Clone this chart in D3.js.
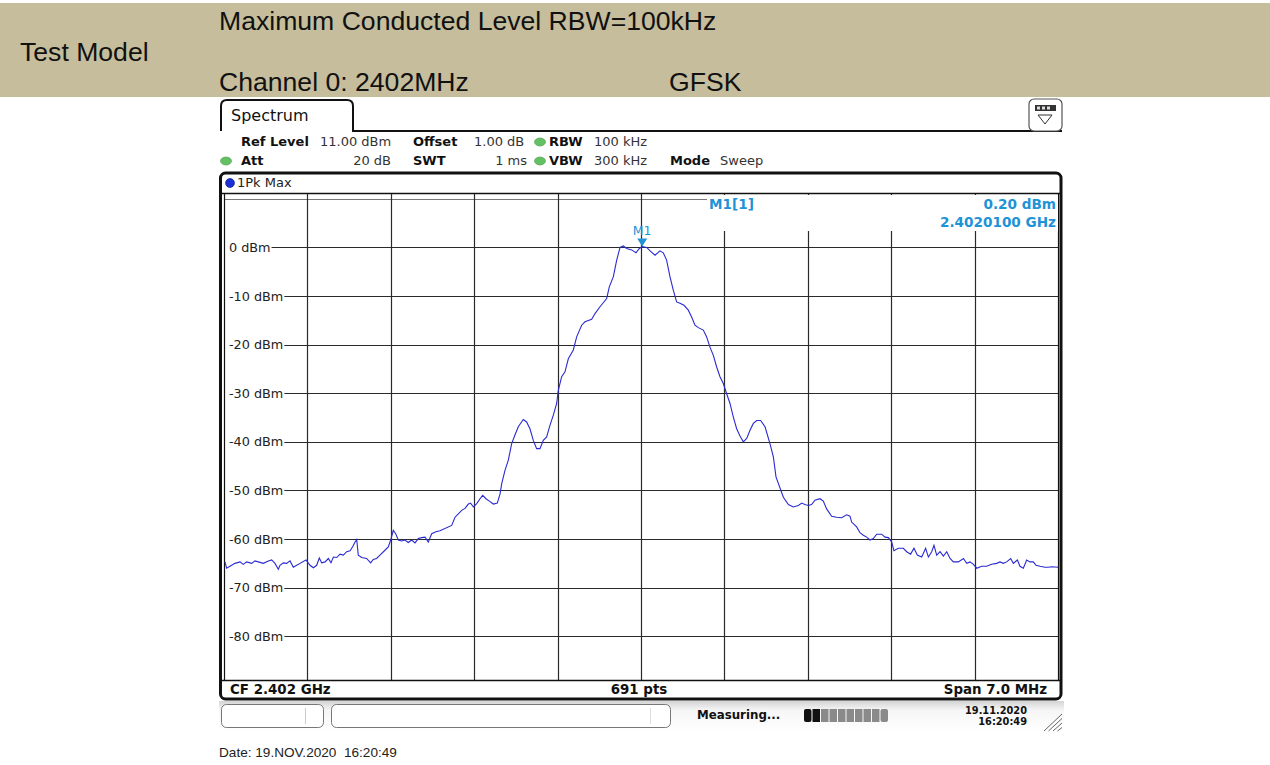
<!DOCTYPE html>
<html>
<head>
<meta charset="utf-8">
<script src="https://cdn.jsdelivr.net/npm/d3@7"></script>
<style>
  body { margin: 0; background: #fff; }
  svg { display: block; }
  text { white-space: pre; }
</style>
</head>
<body>
<div id="chart"></div>
<script>
// trace: offset from CF in MHz, level in dBm
const traceFreqMHz = [
  -3.492, -3.478, -3.450, -3.408, -3.366, -3.338, -3.310, -3.268, -3.240, -3.198,
  -3.170, -3.128, -3.100, -3.072, -3.044, -3.030, -3.002, -2.974, -2.946, -2.918,
  -2.890, -2.862, -2.812, -2.778, -2.750, -2.722, -2.700, -2.680, -2.652, -2.624,
  -2.602, -2.582, -2.554, -2.526, -2.498, -2.470, -2.442, -2.420, -2.400, -2.386,
  -2.373, -2.344, -2.303, -2.269, -2.247, -2.219, -2.191, -2.149, -2.121, -2.101,
  -2.079, -2.059, -2.037, -2.009, -1.981, -1.953, -1.925, -1.897, -1.869, -1.841,
  -1.813, -1.785, -1.757, -1.721, -1.687,
  -1.589, -1.561, -1.533, -1.505, -1.477, -1.449, -1.430, -1.407, -1.379, -1.351,
  -1.329, -1.301, -1.273, -1.239, -1.206, -1.183, -1.169, -1.141, -1.114, -1.086,
  -1.058, -1.030, -0.988, -0.960, -0.932, -0.904, -0.876, -0.848, -0.820, -0.792,
  -0.764, -0.736, -0.708, -0.694, -0.666, -0.638, -0.610, -0.568, -0.540, -0.498,
  -0.470, -0.414, -0.386, -0.344, -0.288, -0.266, -0.232, -0.204, -0.176, -0.148,
  -0.120, -0.078, -0.042, -0.014, 0.010,
  0.048, 0.076, 0.118, 0.159, 0.187, 0.215, 0.243, 0.271, 0.299, 0.327,
  0.361, 0.397, 0.425, 0.453, 0.481, 0.523, 0.551, 0.579, 0.607, 0.635,
  0.663, 0.691, 0.719, 0.747, 0.775, 0.803, 0.831, 0.859, 0.887, 0.915,
  0.943, 0.971, 1.004, 1.041, 1.083, 1.111, 1.133,
  1.195, 1.237, 1.279, 1.321, 1.349, 1.376, 1.404, 1.432, 1.460, 1.502,
  1.530, 1.558, 1.600, 1.642, 1.684, 1.726, 1.754, 1.768, 1.810, 1.838,
  1.866, 1.894, 1.922, 1.950, 1.978, 2.020, 2.048, 2.076, 2.104, 2.123,
  2.160, 2.202, 2.230, 2.263, 2.291, 2.319, 2.356, 2.389, 2.412, 2.440,
  2.459, 2.482, 2.510, 2.538, 2.566, 2.594, 2.622, 2.664, 2.706, 2.734,
  2.762, 2.790, 2.818, 2.859, 2.901, 2.943, 2.985, 3.013, 3.041, 3.069,
  3.103, 3.125, 3.159, 3.181, 3.209, 3.237, 3.265, 3.293, 3.315, 3.349,
  3.391, 3.419, 3.447, 3.500
];
const traceLevelDbm = [
  -64.7, -66.0, -65.6, -65.0, -64.7, -65.2, -64.7, -65.0, -64.5, -64.8,
  -65.0, -64.5, -64.3, -65.0, -66.2, -65.4, -64.9, -65.0, -64.5, -65.8,
  -65.4, -65.0, -64.3, -65.4, -65.9, -65.4, -63.9, -64.9, -64.7, -64.0,
  -64.9, -63.7, -63.8, -63.1, -63.3, -62.6, -62.4, -61.6, -60.6, -60.1,
  -63.3, -63.8, -64.0, -64.9, -64.2, -64.0, -63.3, -62.3, -61.6, -60.2,
  -58.2, -58.9, -60.2, -60.4, -60.2, -60.7, -60.2, -60.8, -59.9, -59.7,
  -59.6, -60.6, -58.9, -58.5, -58.3,
  -57.2, -55.5, -54.8, -54.1, -53.7, -52.8, -52.6, -53.4, -52.7, -51.7,
  -51.0, -51.7, -52.2, -52.8, -52.6, -50.7, -48.6, -45.8, -43.8, -40.4,
  -38.6, -36.9, -35.4, -35.9, -37.3, -39.7, -41.4, -41.4, -39.7, -39.0,
  -36.6, -34.5, -32.1, -29.4, -26.6, -25.6, -22.9, -21.1, -18.4, -16.0,
  -15.3, -14.8, -13.6, -12.2, -10.5, -8.1, -6.0, -2.6, 0.0, 0.3,
  -0.2, -0.5, -1.1, -0.2, 0.2,
  0.0, -0.7, -1.6, -0.7, -1.1, -2.6, -6.0, -8.8, -11.2, -11.5,
  -11.9, -12.9, -14.3, -16.0, -16.5, -17.0, -18.4, -20.5, -22.2, -24.6,
  -26.6, -28.0, -30.1, -32.1, -34.9, -37.3, -38.8, -40.0, -39.3, -37.6,
  -36.2, -35.6, -35.6, -36.9, -40.4, -43.1, -47.2,
  -51.4, -52.9, -53.4, -53.1, -52.6, -52.9, -53.1, -52.9, -52.0, -51.7,
  -52.2, -53.8, -55.3, -55.5, -55.6, -55.0, -55.3, -56.5, -57.5, -58.7,
  -59.2, -59.6, -60.2, -59.9, -59.0, -59.0, -59.6, -59.7, -60.6, -62.4,
  -61.9, -61.9, -62.6, -63.1, -61.9, -63.3, -63.7, -61.9, -63.7, -62.6,
  -61.3, -63.3, -62.6, -63.5, -62.6, -64.0, -64.7, -64.7, -64.0, -65.0,
  -64.7, -65.2, -66.0, -65.6, -65.6, -65.2, -65.0, -64.7, -65.0, -64.7,
  -64.0, -65.0, -64.3, -65.6, -66.0, -64.3, -64.7, -64.7, -65.4, -65.6,
  -65.8, -65.8, -65.7, -65.8
];

const levelTicks = [0, -10, -20, -30, -40, -50, -60, -70, -80];
const freqDivisions = [-2.8, -2.1, -1.4, -0.7, 0, 0.7, 1.4, 2.1, 2.8];
const refLevel = 11;
const spanMHz = 7;

const markerFreqMHz = 0.01;
const markerLevelDbm = 0.2;

const headerLines = ["Maximum Conducted Level RBW=100kHz", "Channel 0: 2402MHz"];
const modulation = "GFSK";

const W = 1270, H = 765;
const plotL = 224, plotR = 1058, plotT = 194, plotB = 680;

const svg = d3.select("#chart").append("svg")
  .attr("width", W).attr("height", H)
  .attr("viewBox", `0 0 ${W} ${H}`);

// ----- header band -----
svg.append("rect").attr("x", 0).attr("y", 3).attr("width", W).attr("height", 94)
  .attr("fill", "#c5bd9b");

const arial = "'Liberation Sans', Arial, sans-serif";
const hdrSize = 26.6;
svg.append("text").attr("x", 20).attr("y", 61).text("Test Model")
  .attr("font-family", arial).attr("font-size", hdrSize).attr("fill", "#111");
svg.append("text").attr("x", 219).attr("y", 30).text(headerLines[0])
  .attr("font-family", arial).attr("font-size", hdrSize).attr("fill", "#111");
svg.append("text").attr("x", 219).attr("y", 91).text(headerLines[1])
  .attr("font-family", arial).attr("font-size", hdrSize).attr("fill", "#111");
svg.append("text").attr("x", 669).attr("y", 91).text(modulation)
  .attr("font-family", arial).attr("font-size", hdrSize).attr("fill", "#111");

// ----- instrument screen -----
const rsFont = "'DejaVu Sans', Verdana, sans-serif";

// tab
svg.append("path")
  .attr("d", "M221,131 L221,106 Q221,100 227,100 L347,100 Q353,100 353,106 L353,131 L1062,131")
  .attr("fill", "none").attr("stroke", "#111").attr("stroke-width", 2);
svg.append("text").attr("x", 231).attr("y", 121).text("Spectrum")
  .attr("font-family", rsFont).attr("font-size", 16).attr("fill", "#111");

// menu icon at top right
const icon = svg.append("g");
icon.append("rect").attr("x", 1029).attr("y", 99).attr("width", 33).attr("height", 32)
  .attr("rx", 5).attr("fill", "#fff").attr("stroke", "#555").attr("stroke-width", 1.2);
icon.append("rect").attr("x", 1035).attr("y", 105).attr("width", 21).attr("height", 6)
  .attr("fill", "#333");
[1037, 1042, 1047].forEach(x => icon.append("rect").attr("x", x).attr("y", 106.5)
  .attr("width", 3).attr("height", 3).attr("fill", "#ddd"));
icon.append("path").attr("d", "M1038,115 L1052,115 L1045,124 Z")
  .attr("fill", "none").attr("stroke", "#333").attr("stroke-width", 1);

// settings rows
const settings = [
  { x: 241, y: 146, t: "Ref Level", b: true },
  { x: 320, y: 146, t: "11.00 dBm" },
  { x: 413, y: 146, t: "Offset", b: true },
  { x: 474, y: 146, t: "1.00 dB" },
  { x: 549, y: 146, t: "RBW", b: true },
  { x: 594, y: 146, t: "100 kHz" },
  { x: 241, y: 165, t: "Att", b: true },
  { x: 391, y: 165, t: "20 dB", a: "end" },
  { x: 413, y: 165, t: "SWT", b: true },
  { x: 527, y: 165, t: "1 ms", a: "end" },
  { x: 549, y: 165, t: "VBW", b: true },
  { x: 594, y: 165, t: "300 kHz" },
  { x: 670, y: 165, t: "Mode", b: true },
  { x: 720, y: 165, t: "Sweep" }
];
svg.selectAll(".setting").data(settings).enter().append("text")
  .attr("class", "setting")
  .attr("x", d => d.x).attr("y", d => d.y)
  .attr("text-anchor", d => d.a || "start")
  .attr("font-family", rsFont).attr("font-size", 13)
  .attr("font-weight", d => d.b ? "bold" : "normal")
  .attr("fill", d => d.b ? "#111" : "#333")
  .text(d => d.t);

[[540, 142], [226, 161], [540, 161]].forEach(([cx, cy]) => {
  svg.append("ellipse").attr("cx", cx).attr("cy", cy).attr("rx", 5.5).attr("ry", 4)
    .attr("fill", "#63c163").attr("stroke", "#4a9a4a").attr("stroke-width", 0.6);
});

// panel frame
svg.append("rect").attr("x", 220.5).attr("y", 173).attr("width", 840.5).attr("height", 526)
  .attr("rx", 5).attr("fill", "#fff").attr("stroke", "#111").attr("stroke-width", 3);
svg.append("line").attr("x1", 222).attr("x2", 1060).attr("y1", 193.5).attr("y2", 193.5)
  .attr("stroke", "#111").attr("stroke-width", 1.5);
svg.append("circle").attr("cx", 230).attr("cy", 183).attr("r", 4.5)
  .attr("fill", "#1c2fd6").attr("stroke", "#0a1a80").attr("stroke-width", 0.6);
svg.append("text").attr("x", 237).attr("y", 187).text("1Pk Max")
  .attr("font-family", rsFont).attr("font-size", 13).attr("fill", "#222");

// scales
const x = d3.scaleLinear().domain([-spanMHz / 2, spanMHz / 2]).range([plotL, plotR]);
const y = d3.scaleLinear().domain([refLevel - 100, refLevel]).range([plotB, plotT]);

const grid = svg.append("g");
const gridColor = "#2a2a2a";

// horizontal grid lines with level labels
levelTicks.forEach(v => {
  const lbl = grid.append("text").attr("x", 229).attr("y", y(v) + 4.5)
    .attr("font-family", rsFont).attr("font-size", 12.8).attr("fill", "#222")
    .text(`${v} dBm`);
  const w = lbl.node().getComputedTextLength();
  grid.append("line").attr("x1", 229 + w + 1).attr("x2", plotR)
    .attr("y1", Math.round(y(v)) + 0.5).attr("y2", Math.round(y(v)) + 0.5)
    .attr("stroke", gridColor).attr("stroke-width", 1.2);
});
// top grid line at +10 dBm (no label)
grid.append("line").attr("x1", plotL).attr("x2", plotR)
  .attr("y1", Math.round(y(10)) + 0.5).attr("y2", Math.round(y(10)) + 0.5)
  .attr("stroke", "#777").attr("stroke-width", 1.2);

// vertical grid lines
freqDivisions.forEach(f => {
  grid.append("line").attr("x1", Math.round(x(f)) + 0.5).attr("x2", Math.round(x(f)) + 0.5)
    .attr("y1", plotT).attr("y2", plotB)
    .attr("stroke", gridColor).attr("stroke-width", 1.2);
});
// plot left edge and bottom
svg.append("line").attr("x1", plotL + 0.5).attr("x2", plotL + 0.5).attr("y1", plotT).attr("y2", plotB)
  .attr("stroke", "#111").attr("stroke-width", 1.2);
svg.append("line").attr("x1", plotR + 0.5).attr("x2", plotR + 0.5).attr("y1", plotT).attr("y2", plotB)
  .attr("stroke", "#111").attr("stroke-width", 1.2);
svg.append("line").attr("x1", 222).attr("x2", 1060).attr("y1", plotB + 0.5).attr("y2", plotB + 0.5)
  .attr("stroke", "#111").attr("stroke-width", 1.5);

// marker readout box covers the upper right grid
svg.append("rect").attr("x", 707).attr("y", 195).attr("width", plotR - 707).attr("height", 36)
  .attr("fill", "#fff");
const mColor = "#1e93d6";
const mSize = 13.6;
svg.append("text").attr("x", 709).attr("y", 209).text("M1[1]")
  .attr("font-family", rsFont).attr("font-size", mSize).attr("font-weight", "bold").attr("fill", mColor);
svg.append("text").attr("x", 1056).attr("y", 209).attr("text-anchor", "end")
  .text(`${markerLevelDbm.toFixed(2)} dBm`)
  .attr("font-family", rsFont).attr("font-size", mSize).attr("font-weight", "bold").attr("fill", mColor);
svg.append("text").attr("x", 1056).attr("y", 227).attr("text-anchor", "end")
  .text(`${(2402 + markerFreqMHz) / 1000}`.padEnd(9, "0") + " GHz")
  .attr("font-family", rsFont).attr("font-size", mSize).attr("font-weight", "bold").attr("fill", mColor);

// trace
const trace = traceFreqMHz.map((f, i) => [f, traceLevelDbm[i]]);
svg.append("path")
  .datum(trace)
  .attr("fill", "none")
  .attr("stroke", "#2a2ad2")
  .attr("stroke-width", 1.1)
  .attr("d", d3.line().x(d => x(d[0])).y(d => y(d[1])));

// marker
const mx = x(markerFreqMHz), my = y(markerLevelDbm);
svg.append("path")
  .attr("d", `M${mx - 5},${my - 8} L${mx + 5},${my - 8} L${mx},${my} Z`)
  .attr("fill", mColor);
svg.append("text").attr("x", mx).attr("y", my - 11).attr("text-anchor", "middle")
  .text("M1").attr("font-family", rsFont).attr("font-size", 12.5).attr("fill", mColor);

// bottom info bar
const bottomY = 694;
const bSize = 13.4;
svg.append("text").attr("x", 230).attr("y", bottomY).text("CF 2.402 GHz")
  .attr("font-family", rsFont).attr("font-size", bSize).attr("font-weight", "bold").attr("fill", "#111");
svg.append("text").attr("x", 639).attr("y", bottomY).attr("text-anchor", "middle").text("691 pts")
  .attr("font-family", rsFont).attr("font-size", bSize).attr("font-weight", "bold").attr("fill", "#111");
svg.append("text").attr("x", 1047).attr("y", bottomY).attr("text-anchor", "end").text(`Span ${spanMHz.toFixed(1)} MHz`)
  .attr("font-family", rsFont).attr("font-size", bSize).attr("font-weight", "bold").attr("fill", "#111");

// status bar
const defs = svg.append("defs");
const grad = defs.append("linearGradient").attr("id", "sb").attr("x1", 0).attr("x2", 0).attr("y1", 0).attr("y2", 1);
grad.append("stop").attr("offset", 0).attr("stop-color", "#d4d4d4");
grad.append("stop").attr("offset", 0.3).attr("stop-color", "#f6f6f6");
grad.append("stop").attr("offset", 1).attr("stop-color", "#ffffff");
svg.append("rect").attr("x", 219).attr("y", 701).attr("width", 845).attr("height", 31).attr("fill", "url(#sb)");
svg.append("rect").attr("x", 221.5).attr("y", 704.5).attr("width", 102).attr("height", 23).attr("rx", 5)
  .attr("fill", "#fff").attr("stroke", "#777");
svg.append("line").attr("x1", 305.5).attr("x2", 305.5).attr("y1", 708).attr("y2", 724).attr("stroke", "#ccc");
svg.append("rect").attr("x", 331.5).attr("y", 704.5).attr("width", 339).attr("height", 23).attr("rx", 5)
  .attr("fill", "#fff").attr("stroke", "#777");
svg.append("line").attr("x1", 650.5).attr("x2", 650.5).attr("y1", 708).attr("y2", 724).attr("stroke", "#ddd");
svg.append("text").attr("x", 697).attr("y", 719).text("Measuring...")
  .attr("font-family", rsFont).attr("font-size", 11.8).attr("font-weight", "bold").attr("fill", "#111");
for (let i = 0; i < 10; i++) {
  svg.append("rect").attr("x", 804 + i * 8.5).attr("y", 709).attr("width", 7.5).attr("height", 13)
    .attr("rx", i === 0 || i === 9 ? 2 : 0)
    .attr("fill", i < 2 ? "#111" : "#8a8a8a");
}
svg.append("text").attr("x", 1027).attr("y", 714).attr("text-anchor", "end").text("19.11.2020")
  .attr("font-family", rsFont).attr("font-size", 9.8).attr("font-weight", "bold").attr("fill", "#111");
svg.append("text").attr("x", 1027).attr("y", 725).attr("text-anchor", "end").text("16:20:49")
  .attr("font-family", rsFont).attr("font-size", 9.8).attr("font-weight", "bold").attr("fill", "#111");
for (let i = 0; i < 4; i++) {
  svg.append("line").attr("x1", 1044 + i * 4.5).attr("y1", 731).attr("x2", 1062).attr("y2", 714 + i * 4.5)
    .attr("stroke", "#666").attr("stroke-width", 1);
}

// footer date
svg.append("text").attr("x", 219).attr("y", 757).text("Date: 19.NOV.2020  16:20:49")
  .attr("font-family", arial).attr("font-size", 13.6).attr("fill", "#222");
</script>
</body>
</html>
